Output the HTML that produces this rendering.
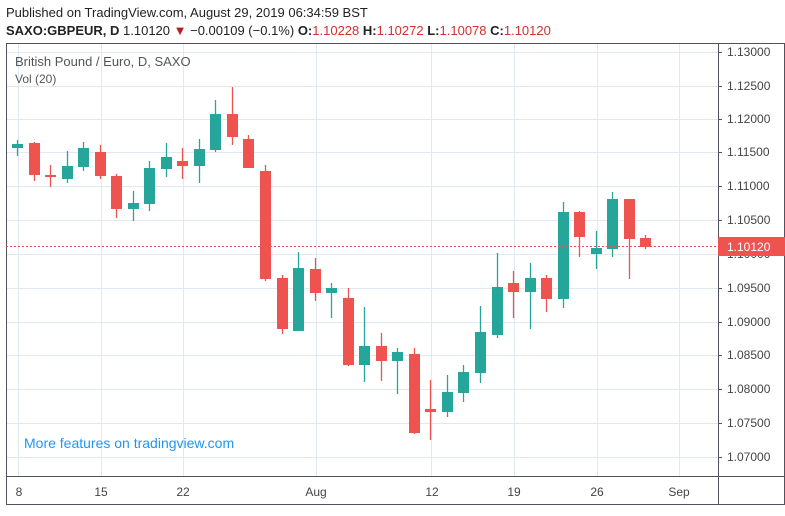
<!DOCTYPE html>
<html><head><meta charset="utf-8"><style>
body{margin:0;background:#fff;width:785px;height:511px;overflow:hidden;font-family:"Liberation Sans",sans-serif}
</style></head><body>
<svg width="785" height="511" xmlns="http://www.w3.org/2000/svg" font-family="Liberation Sans, sans-serif">
<rect width="785" height="511" fill="#fff"/>
<text x="6" y="17" font-size="13" fill="#222">Published on TradingView.com, August 29, 2019 06:34:59 BST</text>
<text x="6" y="35" font-size="13" fill="#222"><tspan font-weight="bold">SAXO:GBPEUR, D</tspan> 1.10120 <tspan fill="#b71c1c">▼</tspan> −0.00109 (−0.1%) <tspan font-weight="bold">O:</tspan><tspan fill="#d32f2f">1.10228</tspan> <tspan font-weight="bold">H:</tspan><tspan fill="#d32f2f">1.10272</tspan> <tspan font-weight="bold">L:</tspan><tspan fill="#d32f2f">1.10078</tspan> <tspan font-weight="bold">C:</tspan><tspan fill="#d32f2f">1.10120</tspan></text>
<g stroke="#e1e8ef" stroke-width="1">
<line x1="6" x2="718" y1="52.5" y2="52.5"/><line x1="6" x2="718" y1="86.5" y2="86.5"/><line x1="6" x2="718" y1="119.5" y2="119.5"/><line x1="6" x2="718" y1="152.5" y2="152.5"/><line x1="6" x2="718" y1="186.5" y2="186.5"/><line x1="6" x2="718" y1="220.5" y2="220.5"/><line x1="6" x2="718" y1="254.5" y2="254.5"/><line x1="6" x2="718" y1="288.5" y2="288.5"/><line x1="6" x2="718" y1="322.5" y2="322.5"/><line x1="6" x2="718" y1="355.5" y2="355.5"/><line x1="6" x2="718" y1="389.5" y2="389.5"/><line x1="6" x2="718" y1="423.5" y2="423.5"/><line x1="6" x2="718" y1="457.5" y2="457.5"/>
<line y1="43" y2="476" x1="18.5" x2="18.5"/><line y1="43" y2="476" x1="101.5" x2="101.5"/><line y1="43" y2="476" x1="183.5" x2="183.5"/><line y1="43" y2="476" x1="316.5" x2="316.5"/><line y1="43" y2="476" x1="431.5" x2="431.5"/><line y1="43" y2="476" x1="514.5" x2="514.5"/><line y1="43" y2="476" x1="597.5" x2="597.5"/><line y1="43" y2="476" x1="679.5" x2="679.5"/>
</g>
<rect x="6.5" y="43.5" width="778" height="461" fill="none" stroke="#50535e"/>
<line x1="718.5" y1="43" x2="718.5" y2="505" stroke="#50535e"/>
<line x1="6" y1="476.5" x2="785" y2="476.5" stroke="#50535e"/>
<text x="15" y="66" font-size="13" fill="#555">British Pound / Euro, D, SAXO</text>
<text x="15" y="83" font-size="12" fill="#555">Vol (20)</text>
<g stroke-width="1.3">
<g fill="#26a69a" stroke="#26a69a">
<line x1="17.5" x2="17.5" y1="140" y2="156"/><rect x="12" y="144" width="11" height="4" stroke="none"/>
<line x1="67.5" x2="67.5" y1="151" y2="183"/><rect x="62" y="166" width="11" height="13" stroke="none"/>
<line x1="83.5" x2="83.5" y1="142" y2="171"/><rect x="78" y="148" width="11" height="19" stroke="none"/>
<line x1="133.5" x2="133.5" y1="191" y2="221"/><rect x="128" y="203" width="11" height="6" stroke="none"/>
<line x1="149.5" x2="149.5" y1="161" y2="211"/><rect x="144" y="168" width="11" height="36" stroke="none"/>
<line x1="166.5" x2="166.5" y1="143" y2="177"/><rect x="161" y="157" width="11" height="12" stroke="none"/>
<line x1="199.5" x2="199.5" y1="139" y2="183"/><rect x="194" y="149" width="11" height="17" stroke="none"/>
<line x1="215.5" x2="215.5" y1="100" y2="152"/><rect x="210" y="114" width="11" height="36" stroke="none"/>
<line x1="298.5" x2="298.5" y1="252" y2="331"/><rect x="293" y="268" width="11" height="63" stroke="none"/>
<line x1="331.5" x2="331.5" y1="283" y2="318"/><rect x="326" y="288" width="11" height="5" stroke="none"/>
<line x1="364.5" x2="364.5" y1="307" y2="382"/><rect x="359" y="346" width="11" height="19" stroke="none"/>
<line x1="397.5" x2="397.5" y1="348" y2="394"/><rect x="392" y="352" width="11" height="9" stroke="none"/>
<line x1="447.5" x2="447.5" y1="375" y2="417"/><rect x="442" y="392" width="11" height="20" stroke="none"/>
<line x1="463.5" x2="463.5" y1="365" y2="402"/><rect x="458" y="372" width="11" height="21" stroke="none"/>
<line x1="480.5" x2="480.5" y1="306" y2="383"/><rect x="475" y="332" width="11" height="41" stroke="none"/>
<line x1="497.5" x2="497.5" y1="253" y2="338"/><rect x="492" y="287" width="11" height="48" stroke="none"/>
<line x1="530.5" x2="530.5" y1="263" y2="329"/><rect x="525" y="278" width="11" height="14" stroke="none"/>
<line x1="563.5" x2="563.5" y1="202" y2="308"/><rect x="558" y="212" width="11" height="87" stroke="none"/>
<line x1="596.5" x2="596.5" y1="231" y2="269"/><rect x="591" y="248" width="11" height="6" stroke="none"/>
<line x1="612.5" x2="612.5" y1="192" y2="257"/><rect x="607" y="199" width="11" height="50" stroke="none"/>
</g>
<g fill="#ef5350" stroke="#ef5350">
<line x1="34.5" x2="34.5" y1="142" y2="181"/><rect x="29" y="143" width="11" height="32" stroke="none"/>
<line x1="50.5" x2="50.5" y1="165" y2="187"/><rect x="45" y="175" width="11" height="2" stroke="none"/>
<line x1="100.5" x2="100.5" y1="145" y2="179"/><rect x="95" y="152" width="11" height="24" stroke="none"/>
<line x1="116.5" x2="116.5" y1="174" y2="218"/><rect x="111" y="176" width="11" height="33" stroke="none"/>
<line x1="182.5" x2="182.5" y1="148" y2="179"/><rect x="177" y="161" width="11" height="5" stroke="none"/>
<line x1="232.5" x2="232.5" y1="87" y2="145"/><rect x="227" y="114" width="11" height="23" stroke="none"/>
<line x1="248.5" x2="248.5" y1="135" y2="168"/><rect x="243" y="139" width="11" height="29" stroke="none"/>
<line x1="265.5" x2="265.5" y1="165" y2="281"/><rect x="260" y="171" width="11" height="108" stroke="none"/>
<line x1="282.5" x2="282.5" y1="275" y2="334"/><rect x="277" y="278" width="11" height="51" stroke="none"/>
<line x1="315.5" x2="315.5" y1="258" y2="301"/><rect x="310" y="269" width="11" height="24" stroke="none"/>
<line x1="348.5" x2="348.5" y1="288" y2="366"/><rect x="343" y="298" width="11" height="67" stroke="none"/>
<line x1="381.5" x2="381.5" y1="333" y2="381"/><rect x="376" y="346" width="11" height="15" stroke="none"/>
<line x1="414.5" x2="414.5" y1="348" y2="434"/><rect x="409" y="354" width="11" height="79" stroke="none"/>
<line x1="430.5" x2="430.5" y1="380" y2="440"/><rect x="425" y="409" width="11" height="3" stroke="none"/>
<line x1="513.5" x2="513.5" y1="271" y2="318"/><rect x="508" y="283" width="11" height="9" stroke="none"/>
<line x1="546.5" x2="546.5" y1="275" y2="312"/><rect x="541" y="278" width="11" height="21" stroke="none"/>
<line x1="579.5" x2="579.5" y1="211" y2="257"/><rect x="574" y="212" width="11" height="25" stroke="none"/>
<line x1="629.5" x2="629.5" y1="199" y2="279"/><rect x="624" y="199" width="11" height="40" stroke="none"/>
<line x1="645.5" x2="645.5" y1="235" y2="249"/><rect x="640" y="238" width="11" height="9" stroke="none"/>
</g>
</g>
<line x1="6" x2="718" y1="246.5" y2="246.5" stroke="#ef5350" stroke-dasharray="2,2"/>
<g font-size="12" fill="#444">
<text x="727" y="56">1.13000</text><text x="727" y="90">1.12500</text><text x="727" y="123">1.12000</text><text x="727" y="156">1.11500</text><text x="727" y="190">1.11000</text><text x="727" y="224">1.10500</text><text x="727" y="258">1.10000</text><text x="727" y="292">1.09500</text><text x="727" y="326">1.09000</text><text x="727" y="359">1.08500</text><text x="727" y="393">1.08000</text><text x="727" y="427">1.07500</text><text x="727" y="461">1.07000</text>
</g>
<g stroke="#50535e"><line x1="718" x2="722" y1="52.5" y2="52.5"/><line x1="718" x2="722" y1="86.5" y2="86.5"/><line x1="718" x2="722" y1="119.5" y2="119.5"/><line x1="718" x2="722" y1="152.5" y2="152.5"/><line x1="718" x2="722" y1="186.5" y2="186.5"/><line x1="718" x2="722" y1="220.5" y2="220.5"/><line x1="718" x2="722" y1="288.5" y2="288.5"/><line x1="718" x2="722" y1="322.5" y2="322.5"/><line x1="718" x2="722" y1="355.5" y2="355.5"/><line x1="718" x2="722" y1="389.5" y2="389.5"/><line x1="718" x2="722" y1="423.5" y2="423.5"/><line x1="718" x2="722" y1="457.5" y2="457.5"/></g>
<rect x="718" y="237" width="67" height="19" fill="#ef5350"/>
<text x="727" y="251" font-size="12" fill="#fff">1.10120</text>
<g font-size="12" fill="#444" text-anchor="middle">
<text x="19" y="496">8</text><text x="101" y="496">15</text><text x="183" y="496">22</text><text x="316" y="496">Aug</text><text x="432" y="496">12</text><text x="514" y="496">19</text><text x="597" y="496">26</text><text x="679" y="496">Sep</text>
</g>
<text x="24" y="448" font-size="14" fill="#2196f3">More features on tradingview.com</text>
</svg>
</body></html>
